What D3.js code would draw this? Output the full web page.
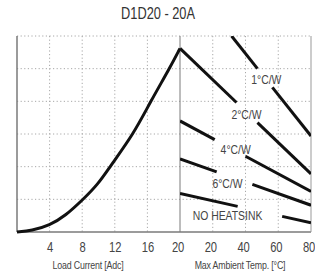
<!DOCTYPE html>
<html>
<head>
<meta charset="utf-8">
<script src="https://cdn.jsdelivr.net/npm/d3@7"></script>
<style>
  body { margin: 0; background: #fff; }
  text { font-family: "Liberation Sans", Arial, sans-serif; }
</style>
</head>
<body>
<svg id="chart"></svg>
<script>
// load current curve (left panel)
const current = [0, 1.8, 4, 6, 8, 10, 11.4, 14.3, 16.4, 18.7, 20];
const power = [0, 0.2, 1.0, 2.55, 4.85, 7.4, 10, 15, 20, 25, 28.1];

// heatsink derating lines (right panel)
const sinkLabels = ["1°C/W", "2°C/W", "4°C/W", "6°C/W", "NO HEATSINK"];
const sinkStartTemp = [31.5, 0, 0, 0, 0];
const sinkStartPower = [30, 28.1, 17, 11.2, 5.9];
const sinkEndTemp = [80, 80, 80, 80, 80];
const sinkEndPower = [14.7, 8.9, 6.2, 4.1, 1.4];
const gapFrom = [47.3, 34.5, 21.2, 22.4, 35.2];
const gapTo = [56.4, 47.3, 40, 44.2, 62.4];
const labelTemp = [52.7, 40.6, 34, 29, 29];
const labelPower = [23.3, 18, 12.7, 7.4, 2.6];

const currentTicks = [4, 8, 12, 16, 20];
const tempTicks = [20, 40, 60, 80];
const powerGrid = [5, 10, 15, 20, 25, 30];

{
    const width = 315, height = 277;
    const left = 17, mid = 180, right = 311, top = 36, bottom = 232;
    const narrow = 0.8;

    const xL = d3.scaleLinear().domain([0, 20]).range([left, mid]);
    const xR = d3.scaleLinear().domain([0, 80]).range([mid, right]);
    const y = d3.scaleLinear().domain([0, 30]).range([bottom, top]);

    const svg = d3.select("#chart")
        .attr("width", width)
        .attr("height", height);

    svg.append("defs").append("clipPath").attr("id", "clip")
        .append("rect")
        .attr("x", mid).attr("y", top)
        .attr("width", right - mid).attr("height", bottom - top);

    // condensed text helper
    const label = (x, yy, str, size, fill) => svg.append("text")
        .attr("transform", `translate(${x}, ${yy}) scale(${narrow}, 1)`)
        .attr("text-anchor", "middle")
        .attr("font-size", size)
        .attr("fill", fill)
        .text(str);

    // dotted grid
    const grid = svg.append("g")
        .attr("stroke", "#a8a8a8")
        .attr("stroke-width", 1)
        .attr("stroke-dasharray", "1.2,2.4");

    grid.selectAll("line.h")
        .data(powerGrid)
        .enter().append("line")
            .attr("x1", left).attr("x2", right)
            .attr("y1", d => y(d)).attr("y2", d => y(d));

    grid.selectAll("line.vl")
        .data(currentTicks.slice(0, -1))
        .enter().append("line")
            .attr("x1", d => xL(d)).attr("x2", d => xL(d))
            .attr("y1", top).attr("y2", bottom);

    grid.selectAll("line.vr")
        .data(tempTicks.slice(0, -1))
        .enter().append("line")
            .attr("x1", d => xR(d)).attr("x2", d => xR(d))
            .attr("y1", top).attr("y2", bottom);

    // frame
    const frame = svg.append("g").attr("stroke", "#7a7a7a").attr("fill", "none");
    frame.append("line").attr("x1", left).attr("x2", left).attr("y1", top).attr("y2", bottom).attr("stroke-width", 1.5);
    frame.append("line").attr("x1", left).attr("x2", right).attr("y1", bottom).attr("y2", bottom).attr("stroke-width", 1.5);
    frame.append("line").attr("x1", mid).attr("x2", mid).attr("y1", top).attr("y2", bottom).attr("stroke-width", 1);
    frame.append("line").attr("x1", right).attr("x2", right).attr("y1", top).attr("y2", bottom).attr("stroke-width", 1).attr("stroke", "#999");

    // load curve
    const line = d3.line()
        .x(d => xL(d[0]))
        .y(d => y(d[1]))
        .curve(d3.curveBasis);

    svg.append("path")
        .datum(d3.zip(current, power))
        .attr("d", line)
        .attr("fill", "none")
        .attr("stroke", "#111")
        .attr("stroke-width", 3);

    // heatsink lines, broken around the labels
    const segs = [];
    sinkLabels.forEach((name, i) => {
        const p = t => sinkStartPower[i] + (t - sinkStartTemp[i]) *
            (sinkEndPower[i] - sinkStartPower[i]) / (sinkEndTemp[i] - sinkStartTemp[i]);
        segs.push([[sinkStartTemp[i], sinkStartPower[i]], [gapFrom[i], p(gapFrom[i])]]);
        segs.push([[gapTo[i], p(gapTo[i])], [sinkEndTemp[i], sinkEndPower[i]]]);
    });

    svg.append("g")
        .attr("clip-path", "url(#clip)")
        .selectAll("line")
        .data(segs)
        .enter().append("line")
            .attr("x1", d => xR(d[0][0])).attr("y1", d => y(d[0][1]))
            .attr("x2", d => xR(d[1][0])).attr("y2", d => y(d[1][1]))
            .attr("stroke", "#111")
            .attr("stroke-width", 3);

    sinkLabels.forEach((d, i) => {
        label(xR(labelTemp[i]), y(labelPower[i]) + 4.6, d, 13, "#444");
    });

    // axes
    const axL = svg.append("g")
        .attr("transform", `translate(0, ${bottom})`)
        .call(d3.axisBottom(xL).tickValues(currentTicks).tickSize(0).tickPadding(10));
    const axR = svg.append("g")
        .attr("transform", `translate(0, ${bottom})`)
        .call(d3.axisBottom(xR).tickValues(tempTicks).tickSize(0).tickPadding(10));
    [axL, axR].forEach(ax => {
        ax.select(".domain").remove();
        ax.selectAll("text")
            .attr("font-family", null)
            .attr("font-size", 14)
            .attr("fill", "#444")
            .attr("transform", `scale(${narrow}, 1)`);
    });
    axR.selectAll(".tick text").attr("dx", -3);
    axL.selectAll(".tick").filter(d => d === 20).select("text").attr("dx", -3);

    label(88, 269, "Load Current [Adc]", 11, "#444").attr("letter-spacing", -0.2);
    label(240, 269, "Max Ambient Temp. [°C]", 11, "#444").attr("letter-spacing", -0.2);
    label(158, 18.5, "D1D20 - 20A", 16, "#333");
}
</script>
</body>
</html>
